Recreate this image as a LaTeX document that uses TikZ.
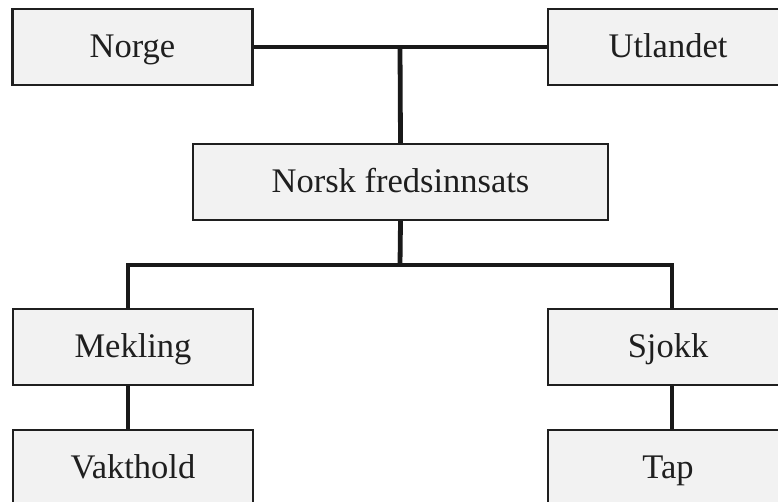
\documentclass[tikz,border=0pt]{standalone}
\usepackage{fontspec}
\setmainfont{Liberation Serif}
\begin{document}
\begin{tikzpicture}[x=1pt,y=1pt,
  box/.style={draw=black!88, line width=2.4pt, fill=black!5, rectangle,
    minimum width=240pt, minimum height=76pt, inner sep=0pt,
    text height=21pt, text depth=0pt,
    font=\fontsize{34.5}{40}\selectfont, text=black!88},
  link/.style={draw=black!90, line width=4.8pt, line cap=butt}]
\useasboundingbox (0,0) rectangle (778,-502);
\clip (0,0) rectangle (778,-502);

% boxes
\node[box] (norge) at (132.5,-47) {Norge};
\node[box] (utl)   at (668,-47) {Utlandet};
\node[box, minimum width=415pt] (nfi) at (400.5,-182) {Norsk fredsinnsats};
\node[box] (mek)   at (133,-347) {Mekling};
\node[box] (sjo)   at (668,-347) {Sjokk};
\node[box] (vak)   at (133,-468) {Vakthold};
\node[box] (tap)   at (668,-468) {Tap};

% junction points
\coordinate (top) at (400,-47);
\coordinate (mid) at (400,-265);
\coordinate (lj)  at (128,-265);
\coordinate (rj)  at (672,-265);

% connectors
\draw[link] (norge.east) -- (utl.west);
\draw[link] (top) -- (nfi.north);
\draw[link] (nfi.south) -- (mid);
\draw[link] (lj |- mek.north) -- (lj) -- (rj) -- (rj |- sjo.north);
\draw[link] (lj |- mek.south) -- (lj |- vak.north);
\draw[link] (rj |- sjo.south) -- (rj |- tap.north);
\end{tikzpicture}
\end{document}
